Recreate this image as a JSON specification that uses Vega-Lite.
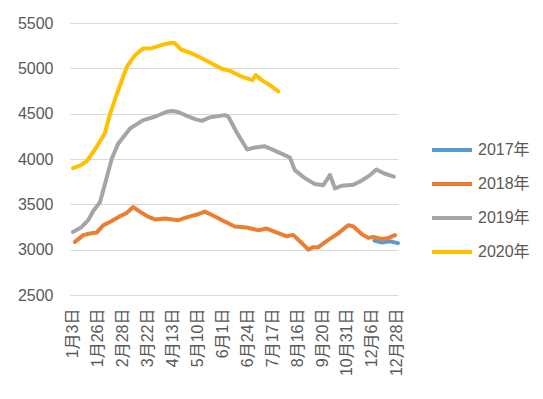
{
  "$schema": "https://vega.github.io/schema/vega-lite/v6.json",
  "autosize": {"type": "none"},
  "padding": {"left": 70, "top": 23, "right": 145, "bottom": 104},
  "width": 328,
  "height": 272,
  "background": "white",
  "config": {
    "font": "Liberation Sans",
    "view": {"stroke": null},
    "axis": {"labelFont": "Liberation Sans, Noto Sans CJK SC", "labelFontSize": 16, "labelColor": "#595959", "ticks": false, "domain": false}
  },
  "data": {"values": [
    {"s":"2017年","t":12.1,"v":3100},{"s":"2017年","t":12.4,"v":3078},{"s":"2017年","t":12.7,"v":3092},{"s":"2017年","t":13.05,"v":3072},
    {"s":"2018年","t":0.08,"v":3086},{"s":"2018年","t":0.41,"v":3160},{"s":"2018年","t":0.68,"v":3178},{"s":"2018年","t":0.95,"v":3189},{"s":"2018年","t":1.22,"v":3270},{"s":"2018年","t":1.55,"v":3317},{"s":"2018年","t":1.89,"v":3369},{"s":"2018年","t":2.16,"v":3406},{"s":"2018年","t":2.42,"v":3470},{"s":"2018年","t":2.7,"v":3417},{"s":"2018年","t":3.03,"v":3362},{"s":"2018年","t":3.29,"v":3333},{"s":"2018年","t":3.69,"v":3344},{"s":"2018年","t":4.23,"v":3325},{"s":"2018年","t":4.63,"v":3362},{"s":"2018年","t":5.02,"v":3391},{"s":"2018年","t":5.3,"v":3420},{"s":"2018年","t":5.7,"v":3365},{"s":"2018年","t":6.05,"v":3317},{"s":"2018年","t":6.5,"v":3255},{"s":"2018年","t":6.97,"v":3244},{"s":"2018年","t":7.44,"v":3215},{"s":"2018年","t":7.78,"v":3233},{"s":"2018年","t":8.17,"v":3190},{"s":"2018年","t":8.59,"v":3147},{"s":"2018年","t":8.84,"v":3163},{"s":"2018年","t":9.12,"v":3090},{"s":"2018年","t":9.45,"v":3000},{"s":"2018年","t":9.65,"v":3028},{"s":"2018年","t":9.85,"v":3028},{"s":"2018年","t":10.25,"v":3108},{"s":"2018年","t":10.66,"v":3182},{"s":"2018年","t":11.05,"v":3270},{"s":"2018年","t":11.26,"v":3255},{"s":"2018年","t":11.6,"v":3170},{"s":"2018年","t":11.86,"v":3130},{"s":"2018年","t":12.06,"v":3141},{"s":"2018年","t":12.4,"v":3118},{"s":"2018年","t":12.67,"v":3130},{"s":"2018年","t":12.93,"v":3160},
    {"s":"2019年","t":0.0,"v":3196},{"s":"2019年","t":0.35,"v":3251},{"s":"2019年","t":0.61,"v":3325},{"s":"2019年","t":0.82,"v":3430},{"s":"2019年","t":1.08,"v":3520},{"s":"2019年","t":1.29,"v":3730},{"s":"2019年","t":1.56,"v":4006},{"s":"2019年","t":1.82,"v":4172},{"s":"2019年","t":2.29,"v":4337},{"s":"2019年","t":2.82,"v":4429},{"s":"2019年","t":3.29,"v":4466},{"s":"2019年","t":3.76,"v":4521},{"s":"2019年","t":4.02,"v":4530},{"s":"2019年","t":4.3,"v":4510},{"s":"2019年","t":4.5,"v":4484},{"s":"2019年","t":4.9,"v":4440},{"s":"2019年","t":5.17,"v":4420},{"s":"2019年","t":5.5,"v":4459},{"s":"2019年","t":6.1,"v":4484},{"s":"2019年","t":6.24,"v":4466},{"s":"2019年","t":6.56,"v":4300},{"s":"2019年","t":6.99,"v":4105},{"s":"2019年","t":7.31,"v":4128},{"s":"2019年","t":7.7,"v":4140},{"s":"2019年","t":7.99,"v":4106},{"s":"2019年","t":8.3,"v":4068},{"s":"2019年","t":8.71,"v":4017},{"s":"2019年","t":8.91,"v":3877},{"s":"2019年","t":9.24,"v":3803},{"s":"2019年","t":9.44,"v":3767},{"s":"2019年","t":9.71,"v":3725},{"s":"2019年","t":10.05,"v":3711},{"s":"2019年","t":10.32,"v":3825},{"s":"2019年","t":10.52,"v":3675},{"s":"2019年","t":10.79,"v":3705},{"s":"2019年","t":11.25,"v":3715},{"s":"2019年","t":11.58,"v":3760},{"s":"2019年","t":11.93,"v":3822},{"s":"2019年","t":12.18,"v":3885},{"s":"2019年","t":12.5,"v":3840},{"s":"2019年","t":12.88,"v":3805},
    {"s":"2020年","t":0.0,"v":3900},{"s":"2020年","t":0.3,"v":3930},{"s":"2020年","t":0.55,"v":3975},{"s":"2020年","t":0.95,"v":4135},{"s":"2020年","t":1.28,"v":4285},{"s":"2020年","t":1.48,"v":4490},{"s":"2020年","t":1.83,"v":4770},{"s":"2020年","t":2.16,"v":5015},{"s":"2020年","t":2.49,"v":5145},{"s":"2020年","t":2.82,"v":5220},{"s":"2020年","t":3.16,"v":5222},{"s":"2020年","t":3.56,"v":5257},{"s":"2020年","t":3.96,"v":5283},{"s":"2020年","t":4.08,"v":5278},{"s":"2020年","t":4.35,"v":5205},{"s":"2020年","t":4.77,"v":5165},{"s":"2020年","t":5.17,"v":5112},{"s":"2020年","t":5.57,"v":5052},{"s":"2020年","t":5.97,"v":4995},{"s":"2020年","t":6.3,"v":4973},{"s":"2020年","t":6.7,"v":4918},{"s":"2020年","t":7.14,"v":4875},{"s":"2020年","t":7.2,"v":4870},{"s":"2020年","t":7.34,"v":4925},{"s":"2020年","t":7.58,"v":4870},{"s":"2020年","t":7.91,"v":4815},{"s":"2020年","t":8.24,"v":4745}
  ]},
  "mark": {"type": "line", "strokeWidth": 4, "strokeCap": "round", "strokeJoin": "round"},
  "encoding": {
    "x": {
      "field": "t", "type": "quantitative",
      "scale": {"domain": [-0.12, 13.05], "nice": false, "zero": false},
      "axis": {
        "title": null, "grid": false, "values": [0,1,2,3,4,5,6,7,8,9,10,11,12,13],
        "labelAngle": -90, "labelPadding": 13,
        "labelExpr": "['1月3日','1月26日','2月28日','3月22日','4月13日','5月10日','6月1日','6月24日','7月17日','8月16日','9月20日','10月31日','12月6日','12月28日'][datum.value]"
      }
    },
    "y": {
      "field": "v", "type": "quantitative",
      "scale": {"domain": [2500, 5500], "nice": false, "zero": false},
      "axis": {"title": null, "format": "d", "values": [2500,3000,3500,4000,4500,5000,5500], "gridColor": "#D9D9D9", "gridWidth": 1, "labelPadding": 17}
    },
    "color": {
      "field": "s", "type": "nominal",
      "scale": {"domain": ["2017年","2018年","2019年","2020年"], "range": ["#5B9BD5","#ED7D31","#A5A5A5","#FFC000"]},
      "legend": {
        "title": null, "orient": "none", "legendX": 368, "legendY": 109, "padding": 0,
        "symbolType": "M-1.5,0H1", "symbolSize": 1024, "symbolStrokeWidth": 4,
        "labelFont": "Liberation Sans, Noto Sans CJK SC", "labelFontSize": 16, "labelColor": "#595959", "labelOffset": 4, "rowPadding": 8
      }
    }
  }
}
